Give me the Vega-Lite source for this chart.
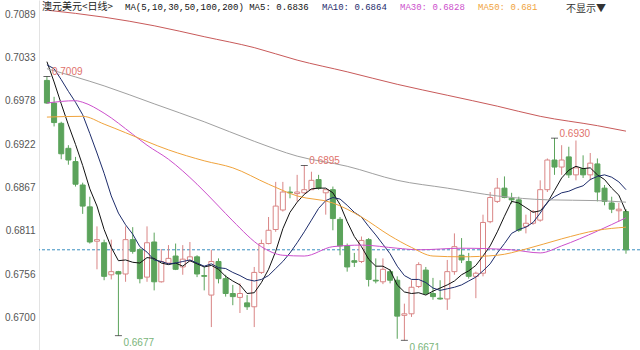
{
  "$schema": "https://vega.github.io/schema/vega-lite/v6.json",
  "width": 601,
  "height": 350,
  "autosize": "none",
  "padding": {"left": 39, "top": 0, "right": 0, "bottom": 0},
  "background": "white",
  "config": {"view": {"stroke": null}},
  "title": {"text": "不显示▼", "anchor": "end", "frame": "group", "orient": "top", "offset": -14, "dx": -34, "fontSize": 10, "font": "Noto Sans CJK SC", "fontWeight": "normal", "color": "#333333"},
  "datasets": {
    "candles": [
      {"i":0,"o":0.7004,"h":0.7009,"l":0.6974,"c":0.6975,"m5":0.7028,"m10":0.7024},
      {"i":1,"o":0.6975,"h":0.6983,"l":0.6945,"c":0.6950,"m5":0.7002,"m10":0.7019},
      {"i":2,"o":0.6949,"h":0.6951,"l":0.6903,"c":0.6910,"m5":0.6974,"m10":0.7005},
      {"i":3,"o":0.6917,"h":0.6921,"l":0.6896,"c":0.6902,"m5":0.6947,"m10":0.6990},
      {"i":4,"o":0.6900,"h":0.6906,"l":0.6868,"c":0.6871,"m5":0.6922,"m10":0.6976},
      {"i":5,"o":0.6870,"h":0.6873,"l":0.6833,"c":0.6843,"m5":0.6895,"m10":0.6960},
      {"i":6,"o":0.6842,"h":0.6855,"l":0.6795,"c":0.6797,"m5":0.6865,"m10":0.6936},
      {"i":7,"o":0.6798,"h":0.6817,"l":0.6762,"c":0.6800,"m5":0.6843,"m10":0.6911},
      {"i":8,"o":0.6796,"h":0.6800,"l":0.6748,"c":0.6753,"m5":0.6813,"m10":0.6885},
      {"i":9,"o":0.6755,"h":0.6800,"l":0.6749,"c":0.6759,"m5":0.6790,"m10":0.6856},
      {"i":10,"o":0.6759,"h":0.6760,"l":0.6677,"c":0.6756,"m5":0.6773,"m10":0.6834},
      {"i":11,"o":0.6756,"h":0.6817,"l":0.6746,"c":0.6800,"m5":0.6774,"m10":0.6819},
      {"i":12,"o":0.6800,"h":0.6816,"l":0.6782,"c":0.6785,"m5":0.6771,"m10":0.6807},
      {"i":13,"o":0.6787,"h":0.6789,"l":0.6744,"c":0.6750,"m5":0.6770,"m10":0.6791},
      {"i":14,"o":0.6752,"h":0.6817,"l":0.6746,"c":0.6796,"m5":0.6777,"m10":0.6784},
      {"i":15,"o":0.6797,"h":0.6809,"l":0.6735,"c":0.6746,"m5":0.6776,"m10":0.6774},
      {"i":16,"o":0.6746,"h":0.6788,"l":0.6745,"c":0.6772,"m5":0.6770,"m10":0.6772},
      {"i":17,"o":0.6770,"h":0.6793,"l":0.6769,"c":0.6776,"m5":0.6768,"m10":0.6769},
      {"i":18,"o":0.6779,"h":0.6795,"l":0.6761,"c":0.6762,"m5":0.6770,"m10":0.6770},
      {"i":19,"o":0.6765,"h":0.6793,"l":0.6755,"c":0.6775,"m5":0.6766,"m10":0.6772},
      {"i":20,"o":0.6773,"h":0.6797,"l":0.6772,"c":0.6778,"m5":0.6773,"m10":0.6774},
      {"i":21,"o":0.6778,"h":0.6780,"l":0.6752,"c":0.6756,"m5":0.6769,"m10":0.6770},
      {"i":22,"o":0.6754,"h":0.6765,"l":0.6735,"c":0.6753,"m5":0.6765,"m10":0.6766},
      {"i":23,"o":0.6729,"h":0.6787,"l":0.6688,"c":0.6772,"m5":0.6767,"m10":0.6769},
      {"i":24,"o":0.6772,"h":0.6776,"l":0.6744,"c":0.6750,"m5":0.6762,"m10":0.6764},
      {"i":25,"o":0.6750,"h":0.6755,"l":0.6727,"c":0.6731,"m5":0.6753,"m10":0.6763},
      {"i":26,"o":0.6731,"h":0.6742,"l":0.6716,"c":0.6727,"m5":0.6747,"m10":0.6758},
      {"i":27,"o":0.6726,"h":0.6744,"l":0.6706,"c":0.6731,"m5":0.6742,"m10":0.6754},
      {"i":28,"o":0.6719,"h":0.6729,"l":0.6710,"c":0.6714,"m5":0.6731,"m10":0.6749},
      {"i":29,"o":0.6714,"h":0.6765,"l":0.6688,"c":0.6758,"m5":0.6732,"m10":0.6747},
      {"i":30,"o":0.6758,"h":0.6800,"l":0.6756,"c":0.6795,"m5":0.6745,"m10":0.6749},
      {"i":31,"o":0.6795,"h":0.6829,"l":0.6794,"c":0.6812,"m5":0.6762,"m10":0.6754},
      {"i":32,"o":0.6813,"h":0.6874,"l":0.6810,"c":0.6843,"m5":0.6785,"m10":0.6763},
      {"i":33,"o":0.6838,"h":0.6874,"l":0.6836,"c":0.6861,"m5":0.6814,"m10":0.6772},
      {"i":34,"o":0.6861,"h":0.6868,"l":0.6853,"c":0.6860,"m5":0.6835,"m10":0.6783},
      {"i":35,"o":0.6859,"h":0.6883,"l":0.6849,"c":0.6861,"m5":0.6848,"m10":0.6796},
      {"i":36,"o":0.6860,"h":0.6895,"l":0.6859,"c":0.6864,"m5":0.6858,"m10":0.6810},
      {"i":37,"o":0.6864,"h":0.6887,"l":0.6864,"c":0.6876,"m5":0.6865,"m10":0.6825},
      {"i":38,"o":0.6877,"h":0.6883,"l":0.6864,"c":0.6866,"m5":0.6866,"m10":0.6840},
      {"i":39,"o":0.6860,"h":0.6864,"l":0.6832,"c":0.6864,"m5":0.6866,"m10":0.6850},
      {"i":40,"o":0.6864,"h":0.6868,"l":0.6812,"c":0.6827,"m5":0.6860,"m10":0.6854},
      {"i":41,"o":0.6826,"h":0.6829,"l":0.6780,"c":0.6792,"m5":0.6845,"m10":0.6852},
      {"i":42,"o":0.6792,"h":0.6795,"l":0.6759,"c":0.6765,"m5":0.6823,"m10":0.6844},
      {"i":43,"o":0.6773,"h":0.6783,"l":0.6765,"c":0.6771,"m5":0.6804,"m10":0.6835},
      {"i":44,"o":0.6772,"h":0.6804,"l":0.6770,"c":0.6799,"m5":0.6791,"m10":0.6829},
      {"i":45,"o":0.6800,"h":0.6802,"l":0.6740,"c":0.6749,"m5":0.6775,"m10":0.6817},
      {"i":46,"o":0.6748,"h":0.6776,"l":0.6744,"c":0.6747,"m5":0.6766,"m10":0.6806},
      {"i":47,"o":0.6746,"h":0.6776,"l":0.6743,"c":0.6762,"m5":0.6766,"m10":0.6794},
      {"i":48,"o":0.6759,"h":0.6762,"l":0.6744,"c":0.6748,"m5":0.6761,"m10":0.6782},
      {"i":49,"o":0.6748,"h":0.6753,"l":0.6673,"c":0.6702,"m5":0.6742,"m10":0.6766},
      {"i":50,"o":0.6703,"h":0.6718,"l":0.6671,"c":0.6705,"m5":0.6733,"m10":0.6754},
      {"i":51,"o":0.6705,"h":0.6748,"l":0.6701,"c":0.6739,"m5":0.6731,"m10":0.6749},
      {"i":52,"o":0.6740,"h":0.6771,"l":0.6738,"c":0.6768,"m5":0.6732,"m10":0.6749},
      {"i":53,"o":0.6761,"h":0.6765,"l":0.6729,"c":0.6731,"m5":0.6729,"m10":0.6745},
      {"i":54,"o":0.6731,"h":0.6751,"l":0.6723,"c":0.6727,"m5":0.6734,"m10":0.6738},
      {"i":55,"o":0.6725,"h":0.6748,"l":0.6723,"c":0.6724,"m5":0.6738,"m10":0.6735},
      {"i":56,"o":0.6724,"h":0.6774,"l":0.6710,"c":0.6759,"m5":0.6742,"m10":0.6737},
      {"i":57,"o":0.6759,"h":0.6808,"l":0.6755,"c":0.6791,"m5":0.6747,"m10":0.6739},
      {"i":58,"o":0.6780,"h":0.6802,"l":0.6770,"c":0.6774,"m5":0.6755,"m10":0.6742},
      {"i":59,"o":0.6772,"h":0.6783,"l":0.6750,"c":0.6753,"m5":0.6760,"m10":0.6747},
      {"i":60,"o":0.6753,"h":0.6759,"l":0.6725,"c":0.6757,"m5":0.6767,"m10":0.6752},
      {"i":61,"o":0.6757,"h":0.6832,"l":0.6753,"c":0.6822,"m5":0.6779,"m10":0.6760},
      {"i":62,"o":0.6823,"h":0.6861,"l":0.6821,"c":0.6854,"m5":0.6792,"m10":0.6769},
      {"i":63,"o":0.6849,"h":0.6879,"l":0.6847,"c":0.6866,"m5":0.6810,"m10":0.6783},
      {"i":64,"o":0.6866,"h":0.6881,"l":0.6853,"c":0.6854,"m5":0.6830,"m10":0.6795},
      {"i":65,"o":0.6853,"h":0.6860,"l":0.6846,"c":0.6851,"m5":0.6849,"m10":0.6808},
      {"i":66,"o":0.6851,"h":0.6855,"l":0.6810,"c":0.6812,"m5":0.6847,"m10":0.6813},
      {"i":67,"o":0.6817,"h":0.6832,"l":0.6808,"c":0.6821,"m5":0.6841,"m10":0.6816},
      {"i":68,"o":0.6821,"h":0.6838,"l":0.6819,"c":0.6836,"m5":0.6835,"m10":0.6822},
      {"i":69,"o":0.6825,"h":0.6876,"l":0.6823,"c":0.6864,"m5":0.6837,"m10":0.6834},
      {"i":70,"o":0.6864,"h":0.6904,"l":0.6861,"c":0.6902,"m5":0.6847,"m10":0.6848},
      {"i":71,"o":0.6902,"h":0.6930,"l":0.6883,"c":0.6893,"m5":0.6863,"m10":0.6855},
      {"i":72,"o":0.6893,"h":0.6921,"l":0.6883,"c":0.6902,"m5":0.6879,"m10":0.6860},
      {"i":73,"o":0.6906,"h":0.6919,"l":0.6879,"c":0.6883,"m5":0.6889,"m10":0.6862},
      {"i":74,"o":0.6883,"h":0.6927,"l":0.6876,"c":0.6892,"m5":0.6894,"m10":0.6866},
      {"i":75,"o":0.6891,"h":0.6908,"l":0.6879,"c":0.6883,"m5":0.6891,"m10":0.6869},
      {"i":76,"o":0.6883,"h":0.6911,"l":0.6876,"c":0.6898,"m5":0.6892,"m10":0.6877},
      {"i":77,"o":0.6897,"h":0.6904,"l":0.6849,"c":0.6861,"m5":0.6883,"m10":0.6881},
      {"i":78,"o":0.6866,"h":0.6870,"l":0.6844,"c":0.6849,"m5":0.6877,"m10":0.6883},
      {"i":79,"o":0.6847,"h":0.6855,"l":0.6834,"c":0.6839,"m5":0.6866,"m10":0.6880},
      {"i":80,"o":0.6837,"h":0.6847,"l":0.6823,"c":0.6839,"m5":0.6857,"m10":0.6874},
      {"i":81,"o":0.6836,"h":0.6839,"l":0.6782,"c":0.6787,"m5":0.6836,"m10":0.6864}
    ],
    "ma": [
      {"s":"m30","i":0,"v":0.6975},{"s":"m30","i":4,"v":0.6978},{"s":"m30","i":5,"v":0.6976},{"s":"m30","i":8,"v":0.6962},
      {"s":"m30","i":12,"v":0.6935},{"s":"m30","i":14,"v":0.6921},{"s":"m30","i":17,"v":0.6903},{"s":"m30","i":21,"v":0.6871},
      {"s":"m30","i":24,"v":0.6843},{"s":"m30","i":26,"v":0.6824},{"s":"m30","i":30,"v":0.6791},{"s":"m30","i":33,"v":0.6780},
      {"s":"m30","i":36,"v":0.6779},{"s":"m30","i":40,"v":0.6791},{"s":"m30","i":44,"v":0.6793},{"s":"m30","i":49,"v":0.6789},
      {"s":"m30","i":52,"v":0.6787},{"s":"m30","i":58,"v":0.6789},{"s":"m30","i":65,"v":0.6787},{"s":"m30","i":69,"v":0.6783},
      {"s":"m30","i":72,"v":0.6792},{"s":"m30","i":77,"v":0.6811},{"s":"m30","i":81,"v":0.6828},
      {"s":"m50","i":0,"v":0.6957},{"s":"m50","i":5,"v":0.6958},{"s":"m50","i":8,"v":0.6948},{"s":"m50","i":11,"v":0.6937},
      {"s":"m50","i":17,"v":0.6915},{"s":"m50","i":22,"v":0.6901},{"s":"m50","i":26,"v":0.6892},{"s":"m50","i":31,"v":0.6871},
      {"s":"m50","i":35,"v":0.6856},{"s":"m50","i":40,"v":0.6847},{"s":"m50","i":44,"v":0.6829},{"s":"m50","i":48,"v":0.6805},
      {"s":"m50","i":51,"v":0.6790},{"s":"m50","i":54,"v":0.6779},{"s":"m50","i":58,"v":0.6778},{"s":"m50","i":63,"v":0.6780},
      {"s":"m50","i":67,"v":0.6788},{"s":"m50","i":72,"v":0.6801},{"s":"m50","i":77,"v":0.6812},{"s":"m50","i":81,"v":0.6816},
      {"s":"m100","i":0,"v":0.7019},{"s":"m100","i":8,"v":0.6997},{"s":"m100","i":15,"v":0.6974},{"s":"m100","i":22,"v":0.6951},
      {"s":"m100","i":29,"v":0.6926},{"s":"m100","i":35,"v":0.6907},{"s":"m100","i":42,"v":0.6894},{"s":"m100","i":49,"v":0.6876},
      {"s":"m100","i":56,"v":0.6866},{"s":"m100","i":63,"v":0.6856},{"s":"m100","i":70,"v":0.6851},{"s":"m100","i":77,"v":0.6850},
      {"s":"m100","i":81,"v":0.6848},
      {"s":"m200","i":0,"v":0.7094},{"s":"m200","i":8,"v":0.7085},{"s":"m200","i":15,"v":0.7074},{"s":"m200","i":22,"v":0.7060},
      {"s":"m200","i":29,"v":0.7046},{"s":"m200","i":35,"v":0.7030},{"s":"m200","i":42,"v":0.7015},{"s":"m200","i":49,"v":0.6999},
      {"s":"m200","i":56,"v":0.6985},{"s":"m200","i":63,"v":0.6971},{"s":"m200","i":69,"v":0.6958},{"s":"m200","i":77,"v":0.6946},
      {"s":"m200","i":81,"v":0.6939}
    ],
    "ext": [
      {"i":0,"v":0.7009,"k":"high"},
      {"i":10,"v":0.6677,"k":"low"},
      {"i":36,"v":0.6895,"k":"high"},
      {"i":50,"v":0.6671,"k":"low"},
      {"i":71,"v":0.6930,"k":"high"}
    ]
  },
  "layer": [
    {
      "data": {"name": "candles"},
      "transform": [{"filter": "datum.i == 81"}],
      "mark": {"type": "rule", "strokeDash": [3, 2], "color": "#3a8fc0", "strokeWidth": 1},
      "encoding": {
        "y": {"field": "c", "type": "quantitative",
          "scale": {"domain": [0.665862, 0.710701], "zero": false, "nice": false},
          "axis": {"orient": "left", "values": [0.67, 0.675557, 0.681114, 0.686671, 0.692229, 0.697786, 0.703343, 0.7089],
            "format": ".4f", "ticks": false, "grid": false, "title": null, "labelFont": "Liberation Sans",
            "labelFontSize": 10, "labelColor": "#555555", "labelPadding": 4, "domainColor": "#e3e3e3", "labelBaseline": "middle"}}
      }
    },
    {
      "data": {"name": "candles"},
      "mark": {"type": "rule", "strokeWidth": 1},
      "encoding": {
        "x": {"field": "i", "type": "quantitative", "scale": {"domain": [-0.41, 82.26], "nice": false, "zero": false}, "axis": null},
        "y": {"field": "l", "type": "quantitative"},
        "y2": {"field": "h"},
        "color": {"condition": {"test": "datum.c >= datum.o", "value": "#d98585"}, "value": "#5ba35b"}
      }
    },
    {
      "data": {"name": "candles"},
      "mark": {"type": "bar", "orient": "vertical", "width": 5, "strokeWidth": 1},
      "encoding": {
        "x": {"field": "i", "type": "quantitative"},
        "y": {"field": "o", "type": "quantitative"},
        "y2": {"field": "c"},
        "fill": {"condition": {"test": "datum.c >= datum.o", "value": "#ffffff"}, "value": "#5ba35b"},
        "stroke": {"condition": {"test": "datum.c >= datum.o", "value": "#d98585"}, "value": "#5ba35b"}
      }
    },
    {
      "data": {"name": "candles"},
      "transform": [{"fold": ["m5", "m10"], "as": ["s", "v"]}],
      "mark": {"type": "line", "strokeWidth": 1},
      "encoding": {
        "x": {"field": "i", "type": "quantitative"},
        "y": {"field": "v", "type": "quantitative"},
        "color": {"field": "s", "type": "nominal",
          "scale": {"domain": ["m5", "m10", "m30", "m50", "m100", "m200"],
            "range": ["#111111", "#1d2c6b", "#cc4fcc", "#f0a33c", "#a0a0a0", "#c85a5a"]},
          "legend": {"orient": "none", "legendX": 3, "legendY": 2, "direction": "horizontal",
            "title": "澳元美元<日线>", "titleOrient": "left", "titleLimit": 0,
            "titleFont": "Noto Sans CJK SC", "titleFontSize": 10, "titleFontWeight": "normal",
            "titleColor": "#222222", "titlePadding": 2,
            "values": ["m5", "m10", "m30", "m50"],
            "labelExpr": "datum.label == 'm5' ? 'MA(5,10,30,50,100,200) MA5: 0.6836' : datum.label == 'm10' ? 'MA10: 0.6864' : datum.label == 'm30' ? 'MA30: 0.6828' : 'MA50: 0.681'",
            "labelFont": "Liberation Mono", "labelFontSize": 9, "labelLimit": 0,
            "symbolSize": 0, "symbolStrokeWidth": 0, "symbolOpacity": 0, "labelOffset": 0,
            "gridAlign": "none", "columnPadding": 4, "padding": 0,
            "encode": {"labels": {"update": {"fill": {"scale": "color", "field": "value"}}}}}}
      }
    },
    {
      "data": {"name": "ma"},
      "mark": {"type": "line", "strokeWidth": 1, "interpolate": "monotone"},
      "encoding": {
        "x": {"field": "i", "type": "quantitative"},
        "y": {"field": "v", "type": "quantitative"},
        "color": {"field": "s", "type": "nominal"}
      }
    },
    {
      "data": {"name": "ext"},
      "mark": {"type": "tick", "orient": "horizontal", "size": 7, "thickness": 1, "color": "#222222"},
      "encoding": {
        "x": {"field": "i", "type": "quantitative"},
        "y": {"field": "v", "type": "quantitative"}
      }
    },
    {
      "data": {"name": "ext"},
      "transform": [{"filter": "datum.k == 'high'"}],
      "mark": {"type": "text", "align": "left", "baseline": "middle", "dx": 5, "dy": -4.5, "fontSize": 10, "font": "Liberation Sans", "color": "#e0726b"},
      "encoding": {
        "x": {"field": "i", "type": "quantitative"},
        "y": {"field": "v", "type": "quantitative"},
        "text": {"field": "v", "type": "quantitative", "format": ".4f"}
      }
    },
    {
      "data": {"name": "ext"},
      "transform": [{"filter": "datum.k == 'low'"}],
      "mark": {"type": "text", "align": "left", "baseline": "middle", "dx": 5, "dy": 7.5, "fontSize": 10, "font": "Liberation Sans", "color": "#79b479"},
      "encoding": {
        "x": {"field": "i", "type": "quantitative"},
        "y": {"field": "v", "type": "quantitative"},
        "text": {"field": "v", "type": "quantitative", "format": ".4f"}
      }
    }
  ]
}
